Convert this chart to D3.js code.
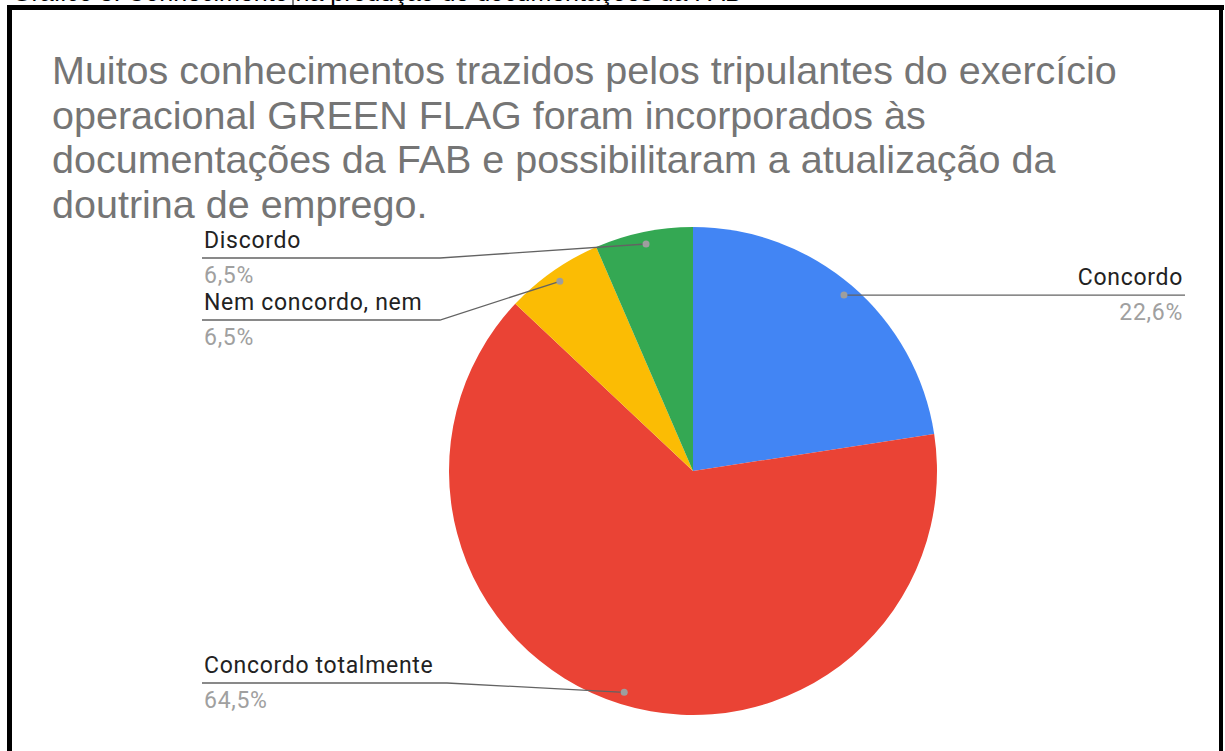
<!DOCTYPE html>
<html>
<head>
<meta charset="utf-8">
<script src="https://cdn.jsdelivr.net/npm/d3@7"></script>
<style>
  body { margin: 0; background: #fff; }
  svg { display: block; }
</style>
</head>
<body>
<div id="chart"></div>
<script>
// chart data
var categories = ["Concordo", "Concordo totalmente", "Nem concordo, nem", "Discordo"];
var values = [22.6, 64.5, 6.5, 6.5];
var pctLabels = ["22,6%", "64,5%", "6,5%", "6,5%"];
var colors = ["#4285F4", "#EA4335", "#FBBC04", "#34A853"];
var titleLines = [
  "Muitos conhecimentos trazidos pelos tripulantes do exercício",
  "operacional GREEN FLAG foram incorporados às",
  "documentações da FAB e possibilitaram a atualização da",
  "doutrina de emprego."
];
var captionText = "Gráfico 3: Conhecimento na produção de documentações da FAB";

var svgWidth = 1225;
var svgHeight = 751;

var svg = d3.select("#chart")
  .append("svg")
  .attr("width", svgWidth)
  .attr("height", svgHeight);

svg.append("rect")
  .attr("width", svgWidth)
  .attr("height", svgHeight)
  .attr("fill", "#fff");

// caption of the document, cut off by the top of the picture (only its bottom shows)
svg.append("text")
  .attr("x", 12)
  .attr("y", 0.5)
  .style("font-family", "Liberation Sans, Arial, sans-serif")
  .style("font-size", "25px")
  .style("fill", "#000")
  .text(captionText);

svg.append("line")
  .attr("x1", 293).attr("x2", 293)
  .attr("y1", 0).attr("y2", 6)
  .attr("stroke", "#000")
  .attr("stroke-width", 1);

// black frame
svg.append("rect").attr("x", 7).attr("y", 5).attr("width", 1217).attr("height", 5).attr("fill", "#000");
svg.append("rect").attr("x", 7).attr("y", 5).attr("width", 5).attr("height", 746).attr("fill", "#000");
svg.append("rect").attr("x", 1219).attr("y", 5).attr("width", 4).attr("height", 746).attr("fill", "#000");

// title
svg.append("g").selectAll("text")
  .data(titleLines)
  .enter()
  .append("text")
  .attr("x", 52)
  .attr("y", (d, i) => 84 + i * 44.5)
  .style("font-family", "Liberation Sans, Arial, sans-serif")
  .style("font-size", "39.5px")
  .style("fill", "#757575")
  .text(d => d);

// pie
var cx = 693, cy = 471, radius = 244;

var pie = d3.pie().sort(null).value(d => d);
var arcs = pie(values);

var arc = d3.arc().innerRadius(0).outerRadius(radius);
var dotArc = d3.arc().innerRadius(radius * 0.95).outerRadius(radius * 0.95);

var pieGroup = svg.append("g")
  .attr("transform", `translate(${cx}, ${cy})`);

pieGroup.selectAll("path")
  .data(arcs)
  .enter()
  .append("path")
  .attr("d", arc)
  .attr("fill", (d, i) => colors[i]);

// label layout (side, line y, elbow x)
var labelLayout = [
  { side: "right", x: 1185 },
  { side: "left", x: 202, lineY: 683, elbow: 447 },
  { side: "left", x: 202, lineY: 320, elbow: 440 },
  { side: "left", x: 202, lineY: 258, elbow: 440 }
];

var labelGroup = svg.append("g");

arcs.forEach(function(d, i) {
  var c = dotArc.centroid(d);
  var px = cx + c[0], py = cy + c[1];
  var lay = labelLayout[i];
  var pts, lineY, tx, anchor;
  if (lay.side === "right") {
    lineY = py;
    pts = [[px, py], [lay.x, lineY]];
    tx = lay.x - 2;
    anchor = "end";
  } else {
    lineY = lay.lineY;
    pts = [[lay.x, lineY], [lay.elbow, lineY], [px, py]];
    tx = lay.x + 2;
    anchor = "start";
  }

  labelGroup.append("path")
    .attr("d", d3.line()(pts))
    .attr("fill", "none")
    .attr("stroke", "#636363")
    .attr("stroke-width", 1.3);

  labelGroup.append("circle")
    .attr("cx", px)
    .attr("cy", py)
    .attr("r", 3.5)
    .attr("fill", "#9e9e9e");

  labelGroup.append("text")
    .attr("x", tx)
    .attr("y", lineY - 10)
    .style("font-family", "Roboto, sans-serif")
    .style("font-size", "23px")
    .style("letter-spacing", "0.7px")
    .style("text-anchor", anchor)
    .style("fill", "#222")
    .text(categories[i]);

  labelGroup.append("text")
    .attr("x", tx)
    .attr("y", lineY + 25)
    .style("font-family", "Roboto, sans-serif")
    .style("font-size", "23px")
    .style("letter-spacing", "0.7px")
    .style("text-anchor", anchor)
    .style("fill", "#a0a0a0")
    .text(pctLabels[i]);
});
</script>
</body>
</html>
